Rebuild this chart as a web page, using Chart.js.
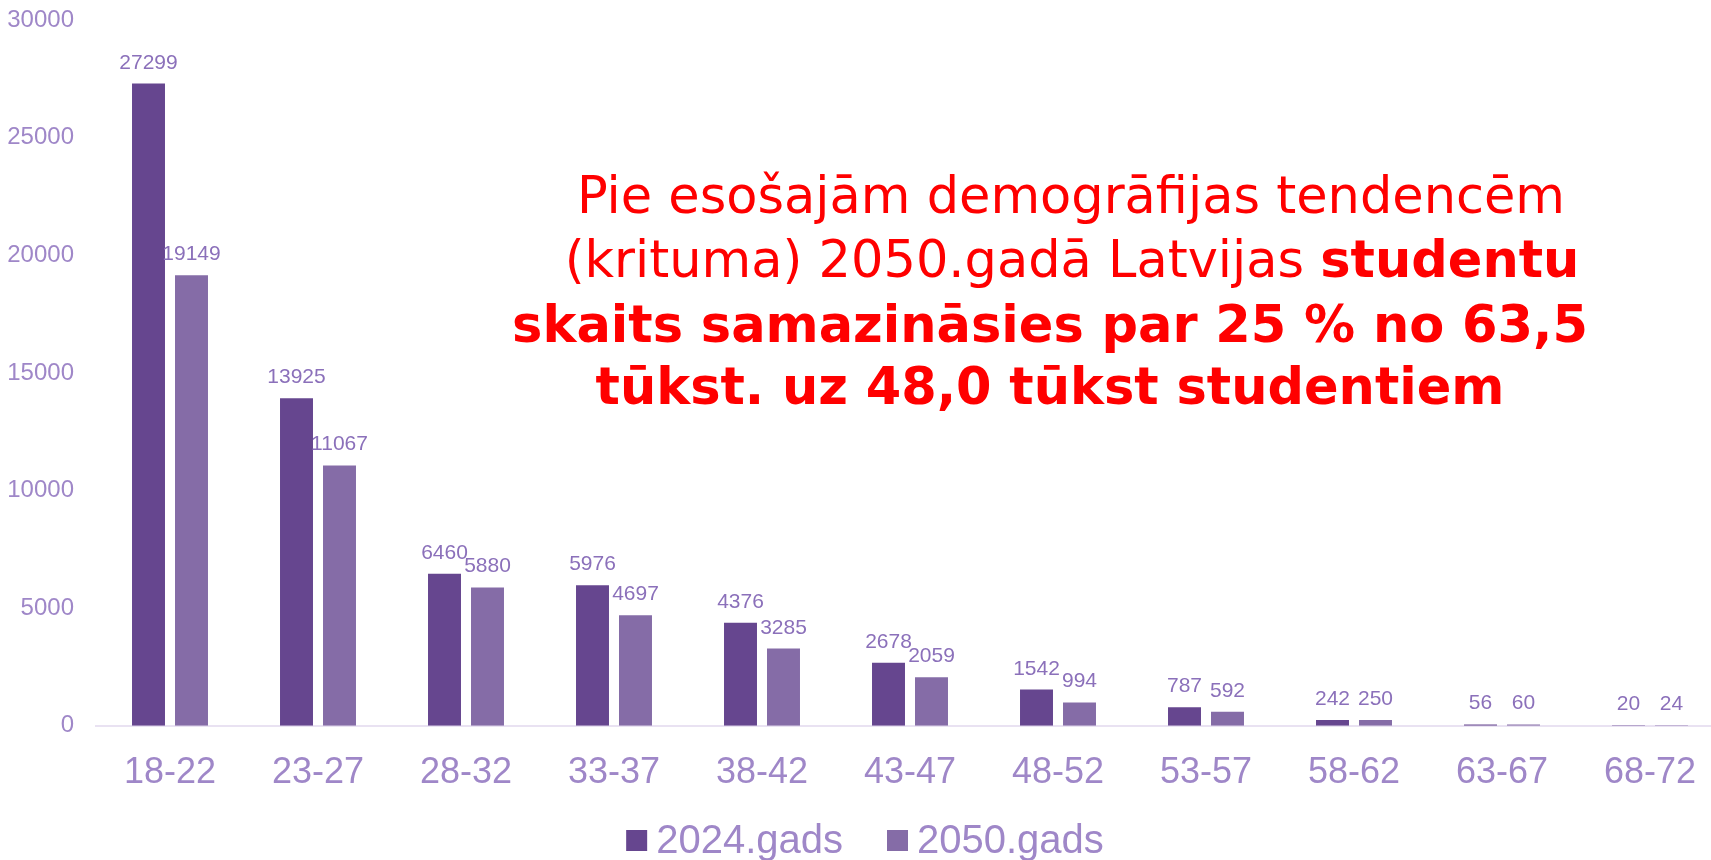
<!DOCTYPE html>
<html>
<head>
<meta charset="utf-8">
<script src="https://cdn.jsdelivr.net/npm/chart.js@4.4.1/dist/chart.umd.min.js"></script>
<style>
  html, body { margin: 0; padding: 0; background: #ffffff; overflow: hidden; }
  #wrap { width: 1730px; height: 860px; position: relative; }
</style>
</head>
<body>
<div id="wrap"><canvas id="c"></canvas></div>
<script>
const categories = ['18-22','23-27','28-32','33-37','38-42','43-47','48-52','53-57','58-62','63-67','68-72'];
const series2024 = [27299, 13925, 6460, 5976, 4376, 2678, 1542, 787, 242, 56, 20];
const series2050 = [19149, 11067, 5880, 4697, 3285, 2059, 994, 592, 250, 60, 24];
const seriesNames = ['2024.gads', '2050.gads'];
const yMax = 30000;
const yStep = 5000;
const titleLines = [
  [{t: 'Pie esošajām demogrāfijas tendencēm', b: false}],
  [{t: '(krituma) 2050.gadā Latvijas ', b: false}, {t: 'studentu', b: true}],
  [{t: 'skaits samazināsies par 25 % no 63,5', b: true}],
  [{t: 'tūkst. uz 48,0 tūkst studentiem', b: true}]
];

const COL1 = '#66468f';
const COL2 = '#856ca7';
const AXIS_TXT = '#9f87c8';
const LBL_TXT = '#8b70ba';

const valueLabels = {
  id: 'valueLabels',
  afterDatasetsDraw(chart) {
    const ctx = chart.ctx;
    ctx.save();
    ctx.font = '21px "Liberation Sans", Arial, sans-serif';
    ctx.fillStyle = LBL_TXT;
    ctx.textAlign = 'center';
    ctx.textBaseline = 'alphabetic';
    chart.data.datasets.forEach((ds, di) => {
      const meta = chart.getDatasetMeta(di);
      meta.data.forEach((bar, i) => {
        ctx.fillText(String(ds.data[i]), bar.x, bar.y - 15);
      });
    });
    ctx.restore();
  }
};

const titleAndLegend = {
  id: 'titleAndLegend',
  afterDraw(chart) {
    const ctx = chart.ctx;
    ctx.save();
    const centers = [1071, 1072, 1050, 1050];
    const baselines = [213, 277, 342, 404];
    ctx.fillStyle = '#ff0000';
    ctx.textBaseline = 'alphabetic';
    ctx.textAlign = 'left';
    titleLines.forEach((line, li) => {
      let w = 0;
      line.forEach(seg => {
        ctx.font = (seg.b ? 'bold ' : '') + '51px "DejaVu Sans", Verdana, sans-serif';
        w += ctx.measureText(seg.t).width;
      });
      let x = centers[li] - w / 2;
      line.forEach(seg => {
        ctx.font = (seg.b ? 'bold ' : '') + '51px "DejaVu Sans", Verdana, sans-serif';
        ctx.fillText(seg.t, x, baselines[li]);
        x += ctx.measureText(seg.t).width;
      });
    });
    ctx.font = '40px "Liberation Sans", Arial, sans-serif';
    const box = 21, gap = 9, itemGap = 44;
    const items = chart.data.datasets.map(d => ({ text: d.label, color: d.backgroundColor }));
    let total = 0;
    items.forEach((it, i) => {
      it.w = ctx.measureText(it.text).width;
      total += box + gap + it.w + (i < items.length - 1 ? itemGap : 0);
    });
    let x = chart.width / 2 - total / 2;
    const baseY = 853;
    items.forEach(it => {
      ctx.fillStyle = it.color;
      ctx.fillRect(x, 830, box, box);
      ctx.fillStyle = AXIS_TXT;
      ctx.fillText(it.text, x + box + gap, baseY);
      x += box + gap + it.w + itemGap;
    });
    ctx.restore();
  }
};

new Chart(document.getElementById('c'), {
  type: 'bar',
  data: {
    labels: categories,
    datasets: [
      { label: seriesNames[0], data: series2024, backgroundColor: COL1, borderWidth: 0,
        categoryPercentage: 0.581, barPercentage: 0.767 },
      { label: seriesNames[1], data: series2050, backgroundColor: COL2, borderWidth: 0,
        categoryPercentage: 0.581, barPercentage: 0.767 }
    ]
  },
  options: {
    responsive: true,
    maintainAspectRatio: false,
    animation: false,
    layout: { padding: { top: 20, right: 6, bottom: 39, left: 0 } },
    plugins: {
      legend: { display: false },
      tooltip: { enabled: false },
      title: { display: false }
    },
    scales: {
      x: {
        grid: { display: false, drawTicks: false },
        border: { display: true, color: '#e9e2f2', width: 2 },
        ticks: {
          color: AXIS_TXT,
          font: { family: '"Liberation Sans", Arial, sans-serif', size: 36 },
          padding: 26,
          maxRotation: 0,
          autoSkip: false
        }
      },
      y: {
        min: 0,
        max: yMax,
        afterFit(scale) { scale.width = 96; scale.paddingTop = 0; scale.paddingBottom = 0; },
        grid: { display: false, drawTicks: false },
        border: { display: false },
        ticks: {
          stepSize: yStep,
          color: AXIS_TXT,
          font: { family: '"Liberation Sans", Arial, sans-serif', size: 24 },
          padding: 22,
          callback: v => String(v)
        }
      }
    }
  },
  plugins: [valueLabels, titleAndLegend]
});
</script>
</body>
</html>
